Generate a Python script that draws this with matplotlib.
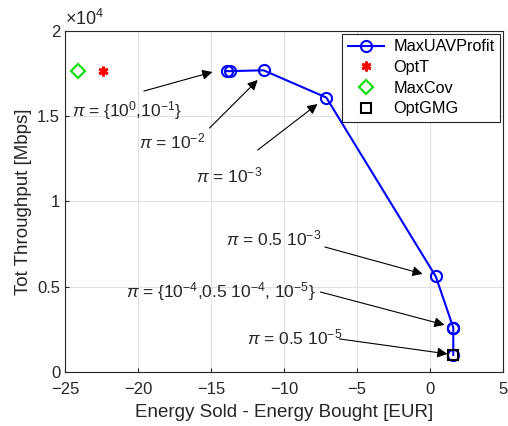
import matplotlib
matplotlib.use("Agg")
import matplotlib.pyplot as plt

plt.rcParams['font.family'] = ['Liberation Sans', 'DejaVu Sans']
plt.rcParams['mathtext.fontset'] = 'custom'
plt.rcParams['mathtext.rm'] = 'Liberation Sans'
plt.rcParams['mathtext.it'] = 'Liberation Sans:italic'

# MaxUAVProfit curve (profit in EUR, throughput in Mbps)
profit_x = [-13.9, -13.7, -11.4, -7.1, 0.4, 1.6, 1.6, 1.6, 1.6]
thr_y = [17650, 17650, 17700, 16100, 5600, 2600, 2600, 2600, 1000]

optt_x, optt_y = [-22.4], [17650]
maxcov_x, maxcov_y = [-24.1], [17650]
optgmg_x, optgmg_y = [1.6], [1000]

xticks = [-25, -20, -15, -10, -5, 0, 5]
yticks = [0, 5000, 10000, 15000, 20000]
ytick_labels = ['0', '0.5', '1', '1.5', '2']

fig = plt.figure(figsize=(5.08, 4.26), dpi=100)
ax = fig.add_axes([0.128, 0.127, 0.862, 0.800])

ax.plot(profit_x, thr_y, '-o', color='#0000ff', lw=1.5, ms=8,
        mfc='none', mew=1.5, label='MaxUAVProfit', zorder=3)
ax.plot(optt_x, optt_y, linestyle='none', marker=(6, 2, 0), color='#ff0000',
        ms=7, mew=2, label='OptT', zorder=3)
ax.plot(maxcov_x, maxcov_y, linestyle='none', marker='D', color='#00dd00',
        ms=7, mfc='none', mew=1.5, label='MaxCov', zorder=3)
ax.plot(optgmg_x, optgmg_y, linestyle='none', marker='s', color='black',
        ms=7, mfc='none', mew=1.5, label='OptGMG', zorder=4)

ax.set_xlim(-25, 5)
ax.set_ylim(0, 20000)
ax.set_xticks(xticks)
ax.set_yticks(yticks)
ax.set_yticklabels(ytick_labels)
ax.grid(True, color='#e0e0e0', lw=0.8)
ax.set_axisbelow(True)
ax.tick_params(labelsize=12, direction='in', length=3, color='#262626',
               labelcolor='#262626', top=False, right=False)
ax.tick_params(axis='x', pad=7)
for s in ax.spines.values():
    s.set_color('#262626')
    s.set_linewidth(0.8)
ax.set_xlabel('Energy Sold - Energy Bought [EUR]', fontsize=13.5,
              color='#262626', labelpad=5)
ax.set_ylabel('Tot Throughput [Mbps]', fontsize=13.5, color='#262626',
              labelpad=4)
ax.text(0.0, 1.005, r'$\times10^{4}$', transform=ax.transAxes, fontsize=13,
        color='#262626', ha='left', va='bottom')

leg = ax.legend(loc='upper right', fontsize=11.7, fancybox=False, framealpha=1,
                edgecolor='#262626', borderaxespad=0.15, handlelength=2.2,
                labelspacing=0.35, borderpad=0.35, handletextpad=0.6)
leg.get_frame().set_linewidth(0.8)

arrow = dict(arrowstyle='-|>', color='black', lw=0.8, mutation_scale=15,
             shrinkA=0, shrinkB=0)
# label, arrow tip, label anchor (left, centre), arrow tail
notes = [
    (r'$\pi$ = {10$^{0}$,10$^{-1}$}', (-14.9, 17600), (-24.5, 15350), (-19.6, 16480)),
    (r'$\pi$ = 10$^{-2}$', (-11.8, 17130), (-19.9, 13500), (-15.1, 14310)),
    (r'$\pi$ = 10$^{-3}$', (-7.7, 15720), (-16.0, 11550), (-11.8, 13020)),
    (r'$\pi$ = 0.5 10$^{-3}$', (-0.5, 5750), (-14.0, 7860), (-7.2, 7330)),
    (r'$\pi$ = {10$^{-4}$,0.5 10$^{-4}$, 10$^{-5}$}', (1.0, 2760), (-20.8, 4690), (-7.5, 4690)),
    (r'$\pi$ = 0.5 10$^{-5}$', (1.2, 1055), (-12.5, 2050), (-6.2, 1935)),
]
for label, tip, tpos, tail in notes:
    ax.text(tpos[0], tpos[1], label, fontsize=12.5, color='#262626',
            ha='left', va='center')
    ax.annotate('', xy=tip, xytext=tail, arrowprops=arrow)

fig.savefig('out.png', dpi=100)
